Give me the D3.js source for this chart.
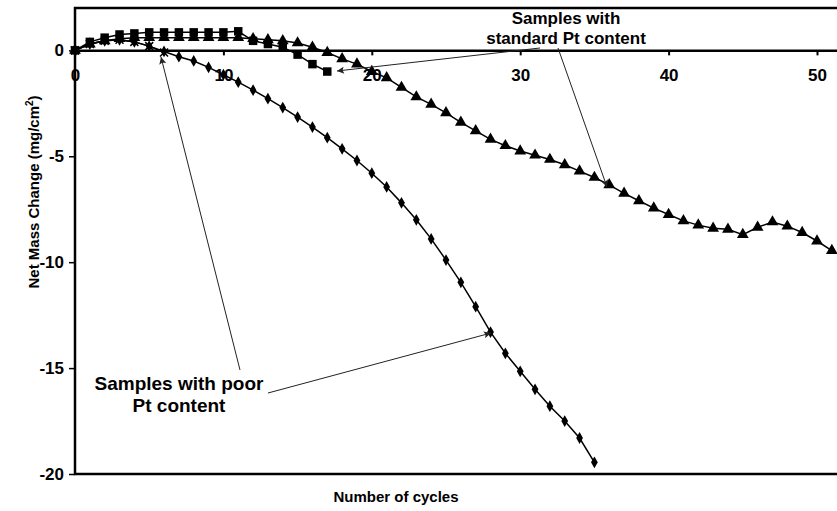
<!DOCTYPE html>
<html>
<head>
<meta charset="utf-8">
<script src="https://cdn.jsdelivr.net/npm/d3@7/dist/d3.min.js"></script>
<style>
  body { margin: 0; background: #fff; }
  text { font-family: "Liberation Sans", Arial, sans-serif; font-weight: bold; fill: #000; }
</style>
</head>
<body>
<div id="chart"></div>
<script>
// Data (net mass change in mg/cm2 per cycle)
var poorDiamond = [0, 0.3, 0.45, 0.5, 0.4, 0.2, -0.05, -0.3, -0.5, -0.8, -1.15,
    -1.5, -1.88, -2.28, -2.7, -3.15, -3.62, -4.12, -4.65, -5.2, -5.8,
    -6.45, -7.2, -8.0, -8.9, -9.9, -10.95, -12.1, -13.3, -14.3, -15.15,
    -16.0, -16.8, -17.5, -18.3, -19.45];
var poorCross = [0, 0.3, 0.45, 0.5, 0.4, 0.2, -0.1];
var stdSquare = [0, 0.4, 0.6, 0.75, 0.8, 0.85, 0.85, 0.85, 0.85, 0.85, 0.85,
    0.9, 0.45, 0.3, 0.15, -0.2, -0.65, -1.0];
var stdTriangle = [0, 0.3, 0.45, 0.55, 0.6, 0.6, 0.6, 0.6, 0.6, 0.6, 0.6,
    0.6, 0.55, 0.5, 0.45, 0.35, 0.15, -0.1, -0.4, -0.65, -1.0,
    -1.3, -1.75, -2.2, -2.55, -2.95, -3.4, -3.8, -4.2, -4.5, -4.75,
    -4.95, -5.15, -5.4, -5.7, -6.0, -6.35, -6.75, -7.1, -7.45, -7.75,
    -8.05, -8.25, -8.4, -8.45, -8.7, -8.35, -8.1, -8.3, -8.6, -9.0,
    -9.45];
var xTicks = [0, 10, 20, 30, 40, 50];
var yTicks = [0, -5, -10, -15, -20];

var svgWidth = 837;
var svgHeight = 511;
var margin = { top: 8, left: 75, bottom: 37 };

var svg = d3.select("#chart")
    .append("svg")
    .attr("width", svgWidth)
    .attr("height", svgHeight);

var x = d3.scaleLinear().domain([0, 52]).range([margin.left, margin.left + 52 * 14.84]);
var y = d3.scaleLinear().domain([-20, 2]).range([svgHeight - margin.bottom, margin.top]);

// arrow head marker
svg.append("defs").append("marker")
    .attr("id", "arrow")
    .attr("viewBox", "0 0 10 10")
    .attr("refX", 10)
    .attr("refY", 5)
    .attr("markerWidth", 9)
    .attr("markerHeight", 7)
    .attr("markerUnits", "userSpaceOnUse")
    .attr("orient", "auto")
    .append("path")
    .attr("d", "M0,0 L10,5 L0,10 L2,5 Z")
    .attr("fill", "#222");

// plot frame
svg.append("rect")
    .attr("x", x(0))
    .attr("y", y(2))
    .attr("width", x(52) - x(0))
    .attr("height", y(-20) - y(2))
    .attr("fill", "none")
    .attr("stroke", "#000")
    .attr("stroke-width", 2.5);

// y axis (plain hyphen for negatives, like the original)
var yAxis = d3.axisLeft(y).tickValues(yTicks).tickFormat(d => String(d))
    .tickSize(6).tickPadding(5).tickSizeOuter(0);
var yG = svg.append("g")
    .attr("transform", `translate(${x(0)},0)`)
    .call(yAxis);
yG.select(".domain").remove();
yG.selectAll("line").attr("stroke-width", 1.5);
yG.selectAll("text").style("font-size", "17px").style("font-family", null);

// x axis sitting on y = 0
var xAxis = d3.axisBottom(x).tickValues(xTicks).tickSize(5).tickPadding(14).tickSizeOuter(0);
var xG = svg.append("g")
    .attr("transform", `translate(0,${y(0)})`)
    .call(xAxis);
xG.select(".domain").attr("stroke-width", 2.5);
xG.selectAll("line").attr("stroke-width", 2);
xG.selectAll("text").style("font-size", "17px").style("font-family", null);

// axis titles
var yTitle = svg.append("text")
    .attr("transform", "translate(39,192) rotate(-90)")
    .attr("text-anchor", "middle")
    .style("font-size", "15px");
yTitle.append("tspan").text("Net Mass Change (mg/cm");
yTitle.append("tspan").attr("dy", -6).style("font-size", "10px").text("2");
yTitle.append("tspan").attr("dy", 6).text(")");

svg.append("text")
    .attr("x", 396)
    .attr("y", 502)
    .attr("text-anchor", "middle")
    .style("font-size", "15px")
    .text("Number of cycles");

// series
var line = d3.line()
    .x((d, i) => x(i))
    .y(d => y(d));

var series = [
    { values: stdSquare, symbol: d3.symbolSquare, size: 72 },
    { values: stdTriangle, symbol: d3.symbolTriangle, size: 60 },
    { values: poorDiamond, symbol: d3.symbolDiamond, size: 40 },
    { values: poorCross, symbol: null, size: 0 }
];

series.forEach(function (s) {
    svg.append("path")
        .attr("d", line(s.values))
        .attr("fill", "none")
        .attr("stroke", "#000")
        .attr("stroke-width", 1.5);

    var pts = svg.append("g").selectAll("path")
        .data(s.values)
        .enter()
        .append("path")
        .attr("transform", (d, i) => `translate(${x(i)},${y(d)})`);

    if (s.symbol) {
        pts.attr("d", d3.symbol().type(s.symbol).size(s.size)).attr("fill", "#000");
    } else {
        pts.attr("d", "M-4,-4L4,4M-4,4L4,-4")
            .attr("stroke", "#000")
            .attr("stroke-width", 1.5);
    }
});

// annotations
function arrow(x1, y1, x2, y2) {
    svg.append("line")
        .attr("x1", x1).attr("y1", y1)
        .attr("x2", x2).attr("y2", y2)
        .attr("stroke", "#222")
        .attr("stroke-width", 1)
        .attr("marker-end", "url(#arrow)");
}

var stdLabel = svg.append("text")
    .attr("text-anchor", "middle")
    .style("font-size", "17px");
stdLabel.append("tspan").attr("x", 566).attr("y", 24).text("Samples with");
stdLabel.append("tspan").attr("x", 566).attr("y", 44).text("standard Pt content");
arrow(540, 48, 337, 71);
arrow(558, 48, 607, 187);

var poorLabel = svg.append("text")
    .attr("text-anchor", "middle")
    .style("font-size", "19px");
poorLabel.append("tspan").attr("x", 179).attr("y", 390).text("Samples with poor");
poorLabel.append("tspan").attr("x", 179).attr("y", 412).text("Pt content");
arrow(240, 370, 161, 57);
arrow(268, 393, 491, 333);
</script>
</body>
</html>
